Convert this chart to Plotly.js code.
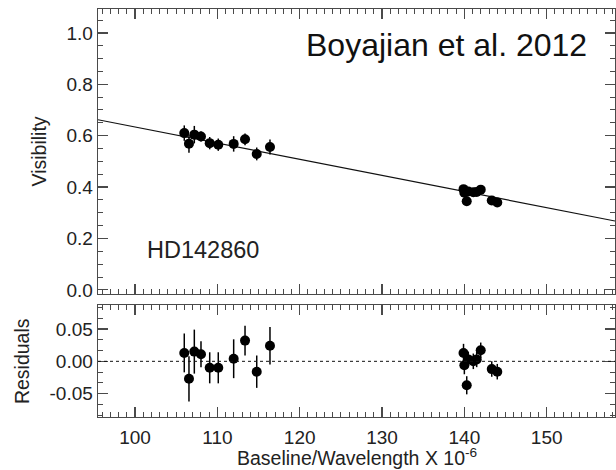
<!DOCTYPE html>
<html><head><meta charset="utf-8">
<script src="https://cdn.plot.ly/plotly-3.0.1.min.js"></script>
<style>html,body{margin:0;padding:0;background:#fff}#chart{width:616px;height:470px}</style>
</head><body><div id="chart"></div>
<script>
// Baseline/Wavelength (x 10^-6)
const baseline = [105.98, 106.55, 107.2, 108.01, 109.07, 110.11, 111.98, 113.36, 114.78, 116.39,
                  139.9, 140.0, 140.29, 140.48, 141.09, 141.5, 141.99, 143.33, 144.0];
const visibility = [0.610, 0.569, 0.604, 0.597, 0.571, 0.565, 0.568, 0.586, 0.529, 0.556,
                    0.392, 0.378, 0.345, 0.383, 0.380, 0.381, 0.390, 0.348, 0.340];
const residuals = [0.013, -0.027, 0.015, 0.011, -0.010, -0.010, 0.004, 0.032, -0.016, 0.024,
                   0.013, -0.006, -0.037, 0.003, 0.000, 0.003, 0.017, -0.012, -0.016];
const errors = [0.030, 0.035, 0.034, 0.020, 0.024, 0.024, 0.030, 0.023, 0.025, 0.029,
                0.014, 0.014, 0.014, 0.012, 0.012, 0.012, 0.012, 0.012, 0.012];
// fitted model line (at the panel edges)
const modelX = [95.5, 158.3];
const modelV = [0.662, 0.268];
// tick labels
const xTickVals = [100, 110, 120, 130, 140, 150];
const xTickText = ['100', '110', '120', '130', '140', '150'];
const yTickVals = [0.0, 0.2, 0.4, 0.6, 0.8, 1.0];
const yTickText = ['0.0', '0.2', '0.4', '0.6', '0.8', '1.0'];
const rTickVals = [-0.05, 0.0, 0.05];
const rTickText = ['-0.05', '0.00', '0.05'];

const FONT = 'Liberation Sans, Arial, Helvetica, sans-serif';
const AX = '#4a4a4a';
const common = {
  showline: true, linecolor: AX, linewidth: 1.4, mirror: 'allticks',
  ticks: 'inside', ticklen: 10, tickwidth: 1.2, tickcolor: AX,
  showgrid: false, zeroline: false,
  tickfont: {family: FONT, size: 19, color: '#222'}
};

const traces = [
  {x: modelX, y: modelV, xaxis: 'x', yaxis: 'y', mode: 'lines',
   line: {color: '#111', width: 1.2}, hoverinfo: 'skip'},
  {x: baseline, y: visibility, xaxis: 'x', yaxis: 'y', mode: 'markers',
   marker: {color: '#000', size: 10},
   error_y: {type: 'data', array: errors, visible: true, color: '#000', thickness: 1.5, width: 0}},
  {x: baseline, y: residuals, xaxis: 'x2', yaxis: 'y2', mode: 'markers',
   marker: {color: '#000', size: 10},
   error_y: {type: 'data', array: errors, visible: true, color: '#000', thickness: 1.5, width: 0}}
];

const minorX = {tickmode: 'linear', tick0: 0, dtick: 1, ticks: 'inside', ticklen: 5, tickcolor: AX, tickwidth: 1};
const layout = {
  width: 616, height: 470,
  margin: {l: 98, r: 1, t: 9, b: 53},
  paper_bgcolor: '#fff', plot_bgcolor: '#fff',
  showlegend: false,
  font: {family: FONT, color: '#222'},
  xaxis: Object.assign({}, common, {domain: [0, 1], anchor: 'y', range: [95.5, 158.3],
    tickmode: 'array', tickvals: xTickVals, ticktext: xTickText, showticklabels: false,
    minor: minorX}),
  yaxis: Object.assign({}, common, {domain: [0.3015, 1], anchor: 'x', range: [-0.016, 1.093],
    tickmode: 'array', tickvals: yTickVals, ticktext: yTickText,
    minor: {tickmode: 'linear', tick0: 0, dtick: 0.05, ticks: 'inside', ticklen: 5, tickcolor: AX, tickwidth: 1}}),
  xaxis2: Object.assign({}, common, {domain: [0, 1], anchor: 'y2', range: [95.5, 158.3],
    tickmode: 'array', tickvals: xTickVals, ticktext: xTickText, minor: minorX,
    ticklabelstandoff: 3}),
  yaxis2: Object.assign({}, common, {domain: [0, 0.2745], anchor: 'x2', range: [-0.086, 0.087],
    tickmode: 'array', tickvals: rTickVals, ticktext: rTickText,
    minor: {tickmode: 'linear', tick0: 0, dtick: 0.05/3, ticks: 'inside', ticklen: 5, tickcolor: AX, tickwidth: 1}}),
  shapes: [
    {type: 'line', xref: 'x2 domain', x0: 0, x1: 1, yref: 'y2', y0: 0, y1: 0,
     line: {color: '#111', width: 1, dash: '3px,3px'}}
  ],
  annotations: [
    {text: 'Boyajian et al. 2012', xref: 'paper', yref: 'paper', x: 0.3985, y: 0.9118,
     xanchor: 'left', yanchor: 'middle', showarrow: false,
     font: {family: FONT, size: 32, color: '#111'}},
    {text: 'HD142860', xref: 'paper', yref: 'paper', x: 0.0909, y: 0.4093,
     xanchor: 'left', yanchor: 'middle', showarrow: false,
     font: {family: FONT, size: 23.5, color: '#222'}},
    {text: 'Visibility', xref: 'paper', yref: 'paper', x: -0.1141, y: 0.6507,
     xanchor: 'center', yanchor: 'middle', textangle: -90, showarrow: false,
     font: {family: FONT, size: 19.5, color: '#222'}},
    {text: 'Residuals', xref: 'paper', yref: 'paper', x: -0.147, y: 0.137,
     xanchor: 'center', yanchor: 'middle', textangle: -90, showarrow: false,
     font: {family: FONT, size: 19.5, color: '#222'}},
    {text: 'Baseline/Wavelength X 10<sup>-6</sup>', xref: 'paper', yref: 'paper', x: 0.5, y: -0.097,
     xanchor: 'center', yanchor: 'middle', showarrow: false,
     font: {family: FONT, size: 19.5, color: '#222'}}
  ]
};

Plotly.newPlot('chart', traces, layout, {staticPlot: true, displayModeBar: false});
</script>
</body></html>
